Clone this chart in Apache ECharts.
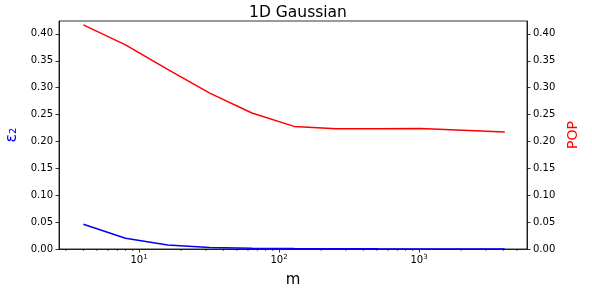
<!DOCTYPE html>
<html>
<head>
<meta charset="utf-8">
<script src="https://cdn.jsdelivr.net/npm/echarts@6/dist/echarts.min.js"></script>
<style>
  html, body { margin: 0; padding: 0; background: #fff; }
  #chart { width: 592px; height: 288px; }
</style>
</head>
<body>
<div id="chart"></div>
<script>
// sample sizes m
const mValues = [4, 8, 16, 32, 64, 128, 256, 512, 1024, 2048, 4096]
// epsilon_2 (left axis, blue)
const eps2 = [0.046, 0.020, 0.0074, 0.003, 0.0014, 0.0008, 0.0005, 0.0003, 0.0002, 0.0001, 0.0001]
// POP (right axis, red)
const pop = [0.4167, 0.3795, 0.334, 0.290, 0.253, 0.228, 0.2238, 0.2235, 0.2243, 0.221, 0.2175]

// minor ticks of the log axis (2..9 x 10^k)
const minorTicks = []
for (let k = 0; k <= 3; k++) {
  for (let d = 2; d <= 9; d++) {
    const v = d * Math.pow(10, k)
    if (v > 2.7 && v < 5900) minorTicks.push(v)
  }
}

const chart = echarts.init(document.getElementById('chart'))
const font = 'DejaVu Sans'

const yAxisBase = {
  type: 'value',
  min: 0,
  max: 0.424,
  interval: 0.05,
  nameLocation: 'middle',
  nameRotate: 90,
  axisLine: { show: true, lineStyle: { color: '#000', width: 0.8 } },
  axisTick: { show: true, length: 3.5, lineStyle: { color: '#000', width: 0.8 } },
  axisLabel: {
    color: '#000', fontFamily: font, fontSize: 10, margin: 6,
    showMaxLabel: false,
    formatter: v => v.toFixed(2)
  },
  splitLine: { show: false }
}

const option = {
  animation: false,
  title: {
    text: '1D Gaussian',
    left: 293,
    textAlign: 'center',
    top: 0,
    textStyle: { fontFamily: font, fontSize: 15.5, fontWeight: 'normal', color: '#000' }
  },
  grid: {
    left: 59, right: 65, top: 21, bottom: 39,
    outerBoundsMode: 'none',
    containLabel: false,
    show: true, borderColor: '#000', borderWidth: 0.8
  },
  xAxis: {
    type: 'log',
    logBase: 10,
    min: 2.68,
    max: 5906,
    name: 'm',
    nameLocation: 'middle',
    nameGap: 24,
    nameTextStyle: { fontFamily: font, fontSize: 15, color: '#000' },
    axisLine: { show: true, lineStyle: { color: '#000', width: 0.8 } },
    axisTick: { show: true, length: 3.5, lineStyle: { color: '#000', width: 0.8 } },
    axisLabel: {
      color: '#000', fontFamily: font, fontSize: 10, margin: 5,
      showMinLabel: false, showMaxLabel: false,
      formatter: v => {
        const e = Math.log10(v)
        if (Math.abs(e - Math.round(e)) > 1e-6) return ''
        return '10{sup|' + Math.round(e) + '}'
      },
      rich: { sup: { fontSize: 7, verticalAlign: 'top', padding: [0, 0, 6, 0], fontFamily: font } }
    },
    splitLine: { show: false }
  },
  yAxis: [
    Object.assign({}, yAxisBase, {
      position: 'left',
      name: 'ε₂',
      nameGap: 36,
      nameTextStyle: { fontFamily: font, fontSize: 16, color: '#0000ff' }
    }),
    Object.assign({}, yAxisBase, {
      position: 'right',
      name: 'POP',
      nameGap: 35,
      nameTextStyle: { fontFamily: font, fontSize: 14, color: '#ff0000' }
    })
  ],
  series: [
    {
      type: 'line',
      yAxisIndex: 0,
      data: mValues.map((m, i) => [m, eps2[i]]),
      showSymbol: false,
      lineStyle: { color: '#0000ff', width: 1.5 },
      itemStyle: { color: '#0000ff' }
    },
    {
      type: 'line',
      yAxisIndex: 1,
      data: mValues.map((m, i) => [m, pop[i]]),
      showSymbol: false,
      lineStyle: { color: '#ff0000', width: 1.5 },
      itemStyle: { color: '#ff0000' }
    },
    {
      type: 'custom',
      yAxisIndex: 0,
      clip: false,
      silent: true,
      data: minorTicks.map(v => [v, 0]),
      renderItem: (params, api) => {
        const p = api.coord([api.value(0), 0])
        return {
          type: 'line',
          shape: { x1: p[0], y1: p[1], x2: p[0], y2: p[1] + 2 },
          style: { stroke: '#000', lineWidth: 0.6 }
        }
      }
    }
  ]
}

chart.setOption(option)
</script>
</body>
</html>
